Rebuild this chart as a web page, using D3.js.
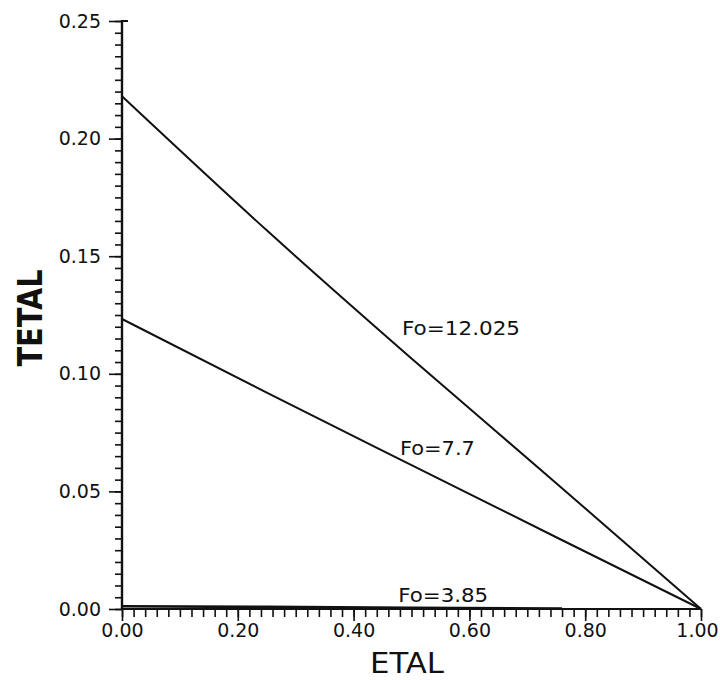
<!DOCTYPE html>
<html>
<head>
<meta charset="utf-8">
<script src="https://cdn.jsdelivr.net/npm/d3@7"></script>
<style>
  html, body { margin: 0; padding: 0; background: #fff; }
  svg text { font-family: "DejaVu Sans", sans-serif; fill: #111; }
</style>
</head>
<body>
<svg id="chart" width="720" height="680"></svg>
<script>
// ---- data ----
const etalFo12 = [0.0, 0.25, 0.5, 0.75, 1.0];
const tetalFo12 = [0.218, 0.161, 0.1065, 0.0535, 0.0];
const etalFo77 = [0.0, 0.25, 0.5, 0.75, 1.0];
const tetalFo77 = [0.1233, 0.092, 0.0612, 0.0305, 0.0];
const etalFo385 = [0.0, 0.25, 0.5, 0.76];
const tetalFo385 = [0.0012, 0.0009, 0.0005, 0.0002];
const seriesLabels = ["Fo=12.025", "Fo=7.7", "Fo=3.85"];
const labelPos = [[0.4836, 0.1165], [0.480, 0.0655], [0.477, 0.0030]];
const xTickLabels = [0, 0.2, 0.4, 0.6, 0.8, 1.0];
const yTickLabels = [0, 0.05, 0.10, 0.15, 0.20, 0.25];

// ---- layout ----
const svg = d3.select("#chart");
const x = d3.scaleLinear().domain([0, 1]).range([122, 701]);
const y = d3.scaleLinear().domain([0, 0.25]).range([609, 21]);

const ink = "#111";

// y axis
const yMinor = d3.range(0, 0.2501, 0.005);
const gy = svg.append("g").attr("transform", `translate(${x(0)},0)`);
gy.call(d3.axisLeft(y).tickValues(yMinor).tickSize(7).tickFormat(""));
gy.append("g").call(d3.axisLeft(y).tickValues(yTickLabels).tickSize(13).tickFormat(d3.format(".2f")).tickPadding(8));
gy.selectAll("path.domain").attr("stroke", ink).attr("stroke-width", 2.2);
gy.selectAll(".tick line").attr("stroke", ink).attr("stroke-width", 1.6);
gy.selectAll(".tick text").attr("font-size", 19).attr("fill", ink).attr("font-family", "DejaVu Sans");

// x axis
const xMinor = d3.range(0, 1.0001, 0.02);
const gx = svg.append("g").attr("transform", `translate(0,${y(0)})`);
gx.call(d3.axisBottom(x).tickValues(xMinor).tickSize(8).tickFormat(""));
gx.append("g").call(d3.axisBottom(x).tickValues(xTickLabels).tickSize(12).tickFormat(d3.format(".2f")).tickPadding(3));
gx.selectAll("path.domain").attr("stroke", ink).attr("stroke-width", 2.2);
gx.selectAll(".tick line").attr("stroke", ink).attr("stroke-width", 1.6);
gx.selectAll(".tick text").attr("font-size", 19).attr("fill", ink).attr("font-family", "DejaVu Sans");
gx.selectAll("path.domain").attr("d", `M${x(0)},0H${x(1)}`);
gy.selectAll("path.domain").attr("d", `M0,${y(0)}V${y(0.25)}H6`);
// keep the last label inside the page
gx.selectAll(".tick text").filter(d => d === 1).attr("dx", -4);

// axis titles
svg.append("text")
  .attr("x", 407).attr("y", 673)
  .attr("text-anchor", "middle")
  .attr("font-size", 28)
  .attr("textLength", 74).attr("lengthAdjust", "spacingAndGlyphs")
  .text("ETAL");
svg.append("text")
  .attr("transform", "translate(42,318) rotate(-90)")
  .attr("text-anchor", "middle")
  .attr("font-size", 34).attr("font-weight", "bold")
  .attr("textLength", 97).attr("lengthAdjust", "spacingAndGlyphs")
  .text("TETAL");

// lines
const line = d3.line().x(d => x(d[0])).y(d => y(d[1])).curve(d3.curveMonotoneX);
const s1 = etalFo12.map((e, i) => [e, tetalFo12[i]]);
const s2 = etalFo77.map((e, i) => [e, tetalFo77[i]]);
const s3 = etalFo385.map((e, i) => [e, tetalFo385[i]]);
[s1, s2].forEach(s => {
  svg.append("path").datum(s).attr("d", line)
    .attr("fill", "none").attr("stroke", ink).attr("stroke-width", 2);
});
svg.append("path").datum(s3).attr("d", line)
  .attr("fill", "none").attr("stroke", ink).attr("stroke-width", 2.6);

// series labels
seriesLabels.forEach((t, i) => {
  svg.append("text")
    .attr("x", x(labelPos[i][0])).attr("y", y(labelPos[i][1]))
    .attr("font-size", 20)
    .attr("textLength", [118, 75, 90][i]).attr("lengthAdjust", "spacingAndGlyphs")
    .text(t);
});
</script>
</body>
</html>
